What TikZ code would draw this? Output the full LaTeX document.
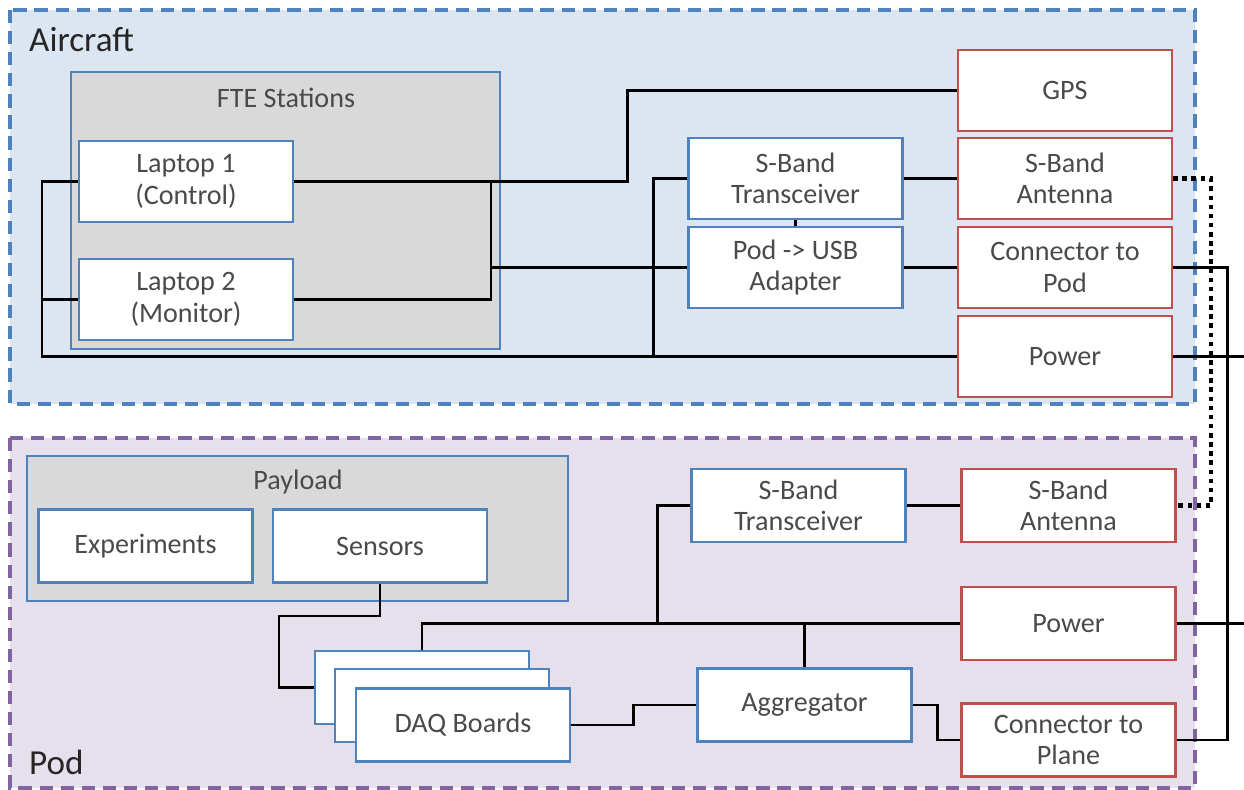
\documentclass[tikz,border=0pt]{standalone}
\usepackage{fontspec}
\setmainfont{Carlito}
\usepackage{tikz}

\definecolor{acfill}{HTML}{DCE6F2}
\definecolor{acline}{HTML}{4F81BD}
\definecolor{podfill}{HTML}{E5E0EC}
\definecolor{podline}{HTML}{8064A2}
\definecolor{grpfill}{HTML}{D9D9D9}
\definecolor{hwline}{HTML}{C0504D}
\definecolor{txtgray}{HTML}{4A4A4A}

\tikzset{
    region/.style={line width=2pt, dash pattern=on 7.5pt off 4.5pt},
    grp/.style={draw=acline, fill=grpfill, line width=1.4pt},
    unit/.style={draw=acline, fill=white, line width=1.4pt, align=center,
        text=txtgray, font=\fontsize{16}{18}\selectfont,
        minimum width=4.28cm, inner sep=0pt},
    hw/.style={unit, draw=hwline},
    tall/.style={minimum height=1.62cm},
    short/.style={minimum height=1.46cm},
    txt/.style={text=txtgray, font=\fontsize{16}{18}\selectfont},
    title/.style={text=black!85, font=\fontsize{20}{24}\selectfont, anchor=west},
    wire/.style={line width=1.7pt},
    rf/.style={line width=2.6pt, dash pattern=on 2.6pt off 2.6pt}
}

\begin{document}
\begin{tikzpicture}[x=0.02cm, y=-0.02cm]
            \useasboundingbox (0,0) rectangle (1244,790);
            % aircraft and pod areas
            \draw[region, draw=acline, fill=acfill] (10,10) rectangle (1195,404);
            \draw[region, draw=podline, fill=podfill] (10,438) rectangle (1195,788);
            \node[title] (aclabel) at (23,40) {Aircraft};
            \node[title] (podlabel) at (23,762) {Pod};

            \draw[grp] (71,72) rectangle (500,349);
            \node[txt] (ftetitle) at (286,98) {FTE Stations};
            \draw[grp] (27,456) rectangle (568,601);
            \node[txt] (payloadtitle) at (298,482) {Payload};

            % aircraft side
            \node[unit, tall] (lap1) at (186,181.5) {Laptop 1\\(Control)};
            \node[unit, tall] (lap2) at (186,299.5) {Laptop 2\\(Monitor)};
            \node[unit, tall] (strx) at (795.5,178.5) {S-Band\\Transceiver};
            \node[unit, tall] (adapt) at (795.5,267.5) {Pod -> USB\\Adapter};
            \node[hw, tall] (gps) at (1065,90.5) {GPS};
            \node[hw, tall] (sant) at (1065,178.5) {S-Band\\Antenna};
            \node[hw, tall] (cpod) at (1065,267.5) {Connector to\\Pod};
            \node[hw, tall] (pwr) at (1065,356.5) {Power};

            % pod side
            \node[unit, short] (exp) at (145.5,546) {Experiments};
            \node[unit, short] (sens) at (380,546) {Sensors};
            \node[unit, short] (daqa) at (422,687.5) {};
            \node[unit, short] (daqb) at (442,705.5) {};
            \node[unit, short] (daqc) at (463,725) {DAQ Boards};
            \node[unit, short] (agg) at (804.5,705) {Aggregator};
            \node[unit, short] (ptrx) at (798.5,505.5) {S-Band\\Transceiver};
            \node[hw, short] (pant) at (1068.5,505.5) {S-Band\\Antenna};
            \node[hw, short] (ppow) at (1068.5,623.5) {Power};
            \node[hw, short] (plane) at (1068.5,740) {Connector to\\Plane};

            \coordinate (acout) at (1244,356.5);
            \coordinate (podout) at (1244,623.5);

            % aircraft wiring
            \draw[wire] (lap1.east) -- (627,181.5) |- (gps.west);
            \draw[wire] (lap2.east) -- (491,299.5) -- (491,181.5);
            \draw[wire] (491,267.5) -- (adapt.west);
            \draw[wire] (lap1.west) -- (42,181.5) |- (pwr.west);
            \draw[wire] (lap2.west) -- (42,299.5);
            \draw[wire] (strx.west) -- (653,178.5) -- (653,356.5);
            \draw[wire] (strx.east) -- (sant.west);
            \draw[wire] (strx.south) -- (adapt.north);
            \draw[wire] (adapt.east) -- (cpod.west);
            \draw[wire] (pwr.east) -- (acout);
            \draw[wire] (cpod.east) -- (1227,267.5) |- (plane.east);

            % pod wiring
            \draw[wire] (sens.south) -- (380,616) -| (279,687.5) -- (daqa.west);
            \draw[wire] (ppow.west) -| (daqa.north);
            \draw[wire] (agg.north) -- (agg.north |- ppow.west);
            \draw[wire] (ptrx.west) -- (657,505.5) -- (657,623.5);
            \draw[wire] (ptrx.east) -- (pant.west);
            \draw[wire] (daqc.east) -- (633,725) |- (agg.west);
            \draw[wire] (agg.east) -- (937,705) |- (plane.west);
            \draw[wire] (ppow.east) -- (podout);

            % radio link
            \draw[rf] (sant.east) -- (1211,178.5) |- (pant.east);
\end{tikzpicture}
\end{document}
